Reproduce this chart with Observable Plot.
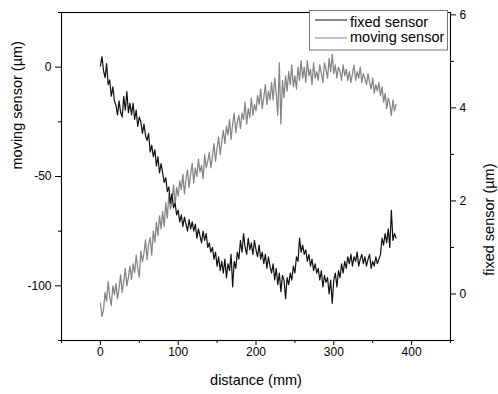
<!DOCTYPE html>
<html>
<head>
<meta charset="utf-8">
<script src="https://cdn.jsdelivr.net/npm/d3@7"></script>
<script src="https://cdn.jsdelivr.net/npm/@observablehq/plot@0.6"></script>
<style>
  body { margin: 0; background: #fff; }
  #wrap { position: relative; width: 498px; height: 394px; overflow: hidden; }
  #wrap > svg { position: absolute; left: 0; top: 0; }
  #wrap > svg#legend { left: 309px; top: 10px; }
</style>
</head>
<body>
<div id="wrap"></div>
<script>
// distance (mm)
const distance = [
  0,2,4,6,8,10,12,14,16,18,
  20,22,24,26,28,30,32,34,36,38,
  40,42,44,46,48,50,52,54,56,58,
  60,62,64,66,68,70,72,74,76,78,
  80,82,84,86,88,90,92,94,96,98,
  100,102,104,106,108,110,112,114,116,118,
  120,122,124,126,128,130,132,134,136,138,
  140,142,144,146,148,150,152,154,156,158,
  160,162,164,166,168,170,172,174,176,178,
  180,182,184,186,188,190,192,194,196,198,
  200,202,204,206,208,210,212,214,216,218,
  220,222,224,226,228,230,232,234,236,238,
  240,242,244,246,248,250,252,254,256,258,
  260,262,264,266,268,270,272,274,276,278,
  280,282,284,286,288,290,292,294,296,298,
  300,302,304,306,308,310,312,314,316,318,
  320,322,324,326,328,330,332,334,336,338,
  340,342,344,346,348,350,352,354,356,358,
  360,362,364,366,368,370,372,374,376,378,380
];
// fixed sensor (µm) – right axis
const fixedSensor = [
  4.9,5.1,4.8,4.65,4.95,4.5,4.6,4.25,4.45,4.15,
  4.05,3.85,4.15,3.9,3.8,4.25,3.95,4.35,3.9,4.1,
  3.85,4.1,3.75,3.95,3.6,3.8,3.7,3.45,3.65,3.4,
  3.3,3.45,3.05,3.2,2.95,3.1,2.75,2.95,2.6,2.8,
  2.6,2.4,2.5,2.2,2.3,1.95,2.15,1.85,1.95,1.7,
  1.8,1.55,1.7,1.45,1.65,1.5,1.35,1.6,1.4,1.55,
  1.35,1.5,1.2,1.4,1.25,1.1,1.35,1.15,1.3,1.0,
  1.1,0.9,1.0,0.75,0.9,0.6,0.8,0.5,0.7,0.45,
  0.75,0.35,0.65,0.5,0.85,0.15,0.7,0.55,0.9,0.75,
  1.15,0.9,1.3,1.0,0.85,1.2,0.95,1.1,0.85,1.15,
  0.95,0.8,1.05,0.75,0.9,0.65,0.85,0.55,0.8,0.6,
  0.45,0.65,0.3,0.55,0.2,0.45,0.05,0.4,0.3,-0.1,
  0.35,0.2,0.45,0.3,0.6,0.45,0.8,0.7,1.2,0.9,
  1.05,0.85,0.95,0.7,0.85,0.6,0.75,0.5,0.65,0.45,
  0.55,0.3,0.5,0.15,0.4,0.25,0.35,0.0,0.3,-0.2,
  0.3,0.45,0.15,0.5,0.35,0.65,0.45,0.7,0.55,0.8,
  0.65,0.85,0.6,0.8,0.7,0.9,0.6,0.75,0.85,0.65,
  0.8,0.6,0.75,0.85,0.55,0.7,0.6,0.8,0.65,0.75,
  0.85,1.2,1.05,1.3,1.1,1.4,1.0,1.8,1.15,1.3,1.2
];
// moving sensor (µm) – left axis
const movingSensor = [
  -108,-114,-111,-103,-107,-98,-105,-109,-100,-104,
  -99,-106,-101,-95,-103,-98,-92,-100,-96,-91,
  -97,-90,-94,-86,-92,-96,-84,-89,-85,-79,
  -88,-81,-78,-86,-75,-80,-71,-77,-68,-74,
  -66,-73,-62,-69,-58,-65,-61,-54,-63,-55,
  -59,-52,-56,-49,-58,-51,-47,-55,-49,-44,
  -53,-46,-50,-42,-48,-45,-51,-40,-46,-43,
  -39,-46,-41,-35,-43,-37,-32,-40,-34,-29,
  -35,-27,-31,-24,-33,-26,-21,-30,-25,-22,
  -28,-21,-24,-16,-26,-19,-23,-14,-22,-17,
  -20,-13,-17,-10,-19,-14,-8,-17,-11,-15,
  -7,-15,-5,-12,-22,2,-26,-6,-14,-4,
  -11,-2,-8,1,-9,-4,-10,0,-6,3,
  -5,0,-7,3,-4,-1,-8,2,-5,-2,
  -6,1,-3,-7,2,-1,-5,4,-2,6,
  -3,1,-5,0,-2,-6,1,-4,-1,-6,
  -2,-7,-3,1,-6,-2,-5,0,-7,-3,
  -5,-8,-3,-7,-10,-5,-12,-8,-11,-7,
  -13,-9,-16,-12,-19,-14,-17,-22,-15,-20,-17
];
// ticks
const xTicks = [0, 100, 200, 300, 400];
const xMinor = [-50, 50, 150, 250, 350, 450];
const leftTicks = [-100, -50, 0];
const leftMinor = [-125, -75, -25, 25];
const rightTicks = [0, 2, 4, 6];
const rightMinor = [-1, 1, 3, 5];
const seriesNames = ["fixed sensor", "moving sensor"];
const seriesColors = ["#111111", "#858585"];

const movingRows = distance.map((d, i) => ({d, v: movingSensor[i]}));
const fixedRows = distance.map((d, i) => ({d, v: fixedSensor[i]}));

const font = "'Liberation Sans', Arial, Helvetica, sans-serif";
const common = {
  width: 498, height: 394,
  marginLeft: 61, marginRight: 48, marginTop: 12, marginBottom: 54,
  style: {fontFamily: font, fontSize: "12px", background: "transparent", color: "#000"}
};
const fmt = d => String(d);

const p1 = Plot.plot({
  ...common,
  x: {domain: [-50, 450], axis: null},
  y: {domain: [-125, 25], axis: null},
  marks: [
    Plot.line(movingRows, {x: "d", y: "v", stroke: seriesColors[1], strokeWidth: 1.25}),
    Plot.axisX({ticks: xTicks, tickSize: 5, tickPadding: 2, tickFormat: fmt, label: null, fontSize: 12}),
    Plot.axisX({ticks: xMinor, tickSize: 3, tickFormat: () => "", label: null}),
    Plot.axisY({ticks: leftTicks, tickSize: 6, tickPadding: 4, tickFormat: fmt, label: null, fontSize: 12}),
    Plot.axisY({ticks: leftMinor, tickSize: 3, tickFormat: () => "", label: null}),
    Plot.text(["distance (mm)"], {frameAnchor: "bottom", dy: 44, fontSize: 14.5}),
    Plot.text(["moving sensor (µm)"], {frameAnchor: "left", rotate: -90, dx: -44, dy: -7, fontSize: 14.5})
  ]
});

const p2 = Plot.plot({
  ...common,
  x: {domain: [-50, 450], axis: null},
  y: {domain: [-1, 6.05], axis: null},
  marks: [
    Plot.line(fixedRows, {x: "d", y: "v", stroke: seriesColors[0], strokeWidth: 1.2}),
    Plot.axisY({anchor: "right", ticks: rightTicks, tickSize: 5, tickPadding: 4, tickFormat: fmt, label: null, fontSize: 12}),
    Plot.axisY({anchor: "right", ticks: rightMinor, tickSize: 3, tickFormat: () => "", label: null}),
    Plot.text(["fixed sensor (µm)"], {frameAnchor: "right", rotate: -90, dx: 39, dy: -13, fontSize: 14.5}),
    Plot.frame({stroke: "#000", strokeWidth: 1.1})
  ]
});

const wrap = document.getElementById("wrap");
wrap.appendChild(p1);
wrap.appendChild(p2);

// legend
const ns = "http://www.w3.org/2000/svg";
const leg = document.createElementNS(ns, "svg");
leg.setAttribute("id", "legend");
leg.setAttribute("width", 140);
leg.setAttribute("height", 41);
const box = document.createElementNS(ns, "rect");
box.setAttribute("x", 0.5); box.setAttribute("y", 0.5);
box.setAttribute("width", 138); box.setAttribute("height", 39.5);
box.setAttribute("fill", "#fff"); box.setAttribute("stroke", "#777");
leg.appendChild(box);
seriesNames.forEach((name, i) => {
  const yLine = 10 + i * 18;
  const ln = document.createElementNS(ns, "line");
  ln.setAttribute("x1", 6); ln.setAttribute("x2", 38);
  ln.setAttribute("y1", yLine); ln.setAttribute("y2", yLine);
  ln.setAttribute("stroke", seriesColors[i]); ln.setAttribute("stroke-width", 1);
  leg.appendChild(ln);
  const t = document.createElementNS(ns, "text");
  t.setAttribute("x", 41); t.setAttribute("y", 16.5 + i * 15.7);
  t.setAttribute("font-family", font); t.setAttribute("font-size", 14.5);
  t.textContent = name;
  leg.appendChild(t);
});
wrap.appendChild(leg);
</script>
</body>
</html>
